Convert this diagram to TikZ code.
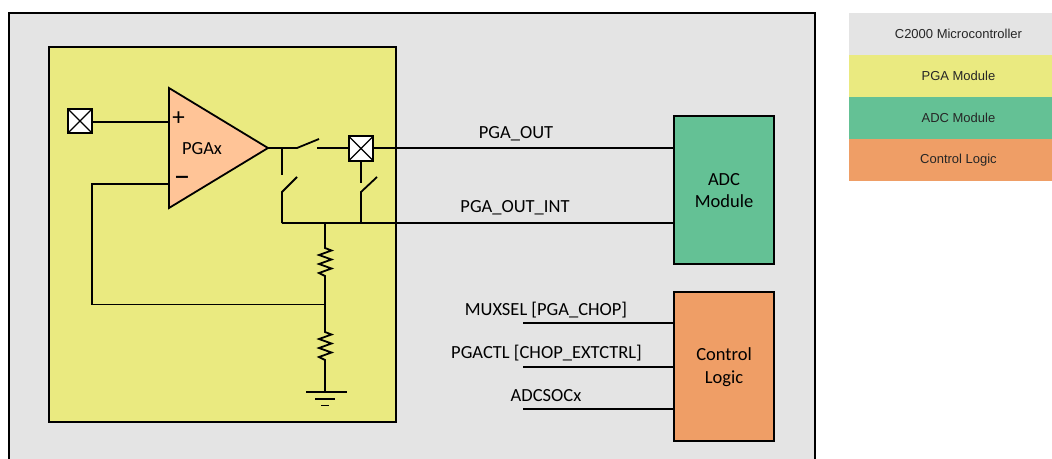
\documentclass[tikz,border=0pt]{standalone}
\usepackage{fontspec}
\setmainfont{Carlito}
\newfontfamily\legendfont{Liberation Sans}
\definecolor{mcugray}{HTML}{E4E4E4}
\definecolor{pgayellow}{HTML}{EAEA80}
\definecolor{adcgreen}{HTML}{64C195}
\definecolor{ctlorange}{HTML}{EF9E66}
\definecolor{amporange}{HTML}{FFC497}
\tikzset{
  wire/.style={draw=black,line width=1.8pt,line join=miter},
  frame/.style={draw=black,line width=1.8pt,outer sep=0pt},
  pinbox/.style={draw=black,line width=2.2pt,outer sep=0pt,fill=white,minimum width=24.5pt,minimum height=24.5pt,inner sep=0pt,
    path picture={\draw[line width=1.3pt] (path picture bounding box.south west) -- (path picture bounding box.north east)
      (path picture bounding box.north west) -- (path picture bounding box.south east);}},
  block/.style={draw=black,line width=1.8pt,outer sep=0pt,minimum width=100pt,align=center,inner sep=0pt,font=\fontsize{18.5}{23}\selectfont},
  siglabel/.style={inner sep=0pt,font=\fontsize{18.5}{22}\selectfont},
  legendbox/.style={minimum width=203pt,minimum height=42pt,inner sep=0pt,font=\legendfont\fontsize{13}{15}\selectfont,text=black!85}
}
\begin{document}
\begin{tikzpicture}[x=1pt,y=-1pt]
\useasboundingbox (0,0) rectangle (1052,458);
% Microcontroller frame, open past the bottom edge
\begin{scope}
\clip (0,0) rectangle (1052,458);
\node[frame,fill=mcugray,minimum width=806pt,minimum height=470pt,inner sep=0pt,anchor=north west] (mcu) at (9,13) {};
\end{scope}
\node[frame,fill=pgayellow,minimum width=347pt,minimum height=375pt,inner sep=0pt,anchor=north west] (pga) at (49,47) {};
% Amplifier
\coordinate (ampT) at (169,88);
\coordinate (ampB) at (169,208);
\coordinate (ampO) at (268,148);
\coordinate (ampP) at (169,122);
\coordinate (ampN) at (169,184);
\draw[frame,fill=amporange,line join=miter] (ampT) -- (ampO) -- (ampB) -- cycle;
\node[inner sep=0pt,font=\fontsize{18.5}{23}\selectfont] (amplabel) at (202,149) {PGAx};
\node[inner sep=0pt,font=\fontsize{25}{25}\selectfont] (plus) at (178.5,119) {+};
\node[inner sep=0pt,font=\fontsize{32}{32}\selectfont] (minus) at (182,182) {\textminus};
% Pins
\node[pinbox] (pinA) at (80,121) {};
\node[pinbox] (pinB) at (361,148.5) {};
\draw[wire] (pinA.east |- ampP) -- (ampP);
% Blocks
\node[block,fill=adcgreen,minimum height=148pt,anchor=north west] (adc) at (674,116) {};
\node[block,fill=ctlorange,minimum height=149pt,anchor=north west] (ctl) at (674,292) {};
\node[inner sep=0pt,align=center,font=\fontsize{18.5}{22}\selectfont] (adctext) at (724,191) {ADC\\Module};
\node[inner sep=0pt,align=center,font=\fontsize{18.5}{23}\selectfont] (ctltext) at (724,367.5) {Control\\Logic};
% Output switch
\coordinate (tapO) at (282,148);
\coordinate (swA) at (297,148);
\coordinate (swB) at (319,139);
\coordinate (swC) at (317,148);
\draw[wire] (ampO) -- (swA) -- (swB);
\draw[wire] (swC) -- (pinB.west |- swC);
\draw[wire] (pinB.east |- tapO) -- (adc.west |- tapO);
% Left vertical switch
\coordinate (busL) at (282,223);
\coordinate (sLa) at (282,175);
\coordinate (sLb) at (282,192);
\coordinate (sLc) at (297,177);
\draw[wire] (tapO) -- (sLa);
\draw[wire] (sLc) -- (sLb) -- (busL);
% Right vertical switch
\coordinate (busR) at (361,223);
\coordinate (sRa) at (361,183);
\coordinate (sRb) at (361,192);
\coordinate (sRc) at (377,177);
\draw[wire] (pinB.south) -- (sRa);
\draw[wire] (sRc) -- (sRb) -- (busR);
% Internal bus
\draw[wire] (busL) -- (adc.west |- busL);
% Resistor ladder
\coordinate (busM) at (325,223);
\coordinate (fbJ) at (325,304.5);
\coordinate (gnd) at (325,392);
\draw[wire] (busM) -- (325,248) -- (331.5,250.5) -- (319,255) -- (331.5,259.5) -- (319,264) -- (331.5,268.5) -- (319,273) -- (325,276) -- (fbJ)
  -- (325,332) -- (331.5,334.5) -- (319,339) -- (331.5,343.5) -- (319,348) -- (331.5,352.5) -- (319,357) -- (325,360) -- (gnd);
\draw[wire] (ampN) -- (92,184) -- (92,304.5) -- (fbJ);
% Ground
\draw[wire] (306,392) -- (347,392);
\draw[wire] (315,399) -- (335,399);
\draw[wire] (321,405.5) -- (329,405.5);
% Signal lines
\coordinate (muxS) at (523,323);
\coordinate (pgaS) at (523,367);
\coordinate (socS) at (523,409);
\draw[wire] (muxS) -- (ctl.west |- muxS);
\draw[wire] (pgaS) -- (ctl.west |- pgaS);
\draw[wire] (socS) -- (ctl.west |- socS);
% Signal labels
\node[siglabel] (lblOut) at (516,134) {PGA\_OUT};
\node[siglabel] (lblInt) at (515,208) {PGA\_OUT\_INT};
\node[siglabel] (lblMux) at (546,310) {MUXSEL [PGA\_CHOP]};
\node[siglabel] (lblCtl) at (546.5,353) {PGACTL [CHOP\_EXTCTRL]};
\node[siglabel] (lblSoc) at (546,396) {ADCSOCx};
% Legend
\node[legendbox,fill=mcugray,anchor=north west] (lg1) at (849,13) {\hspace*{15.5pt}C2000 Microcontroller};
\node[legendbox,fill=pgayellow,anchor=north west] (lg2) at (849,55) {\hspace*{15.5pt}PGA Module};
\node[legendbox,fill=adcgreen,anchor=north west] (lg3) at (849,97) {\hspace*{15.5pt}ADC Module};
\node[legendbox,fill=ctlorange,anchor=north west] (lg4) at (849,139) {\hspace*{15.5pt}Control Logic};
\end{tikzpicture}
\end{document}
